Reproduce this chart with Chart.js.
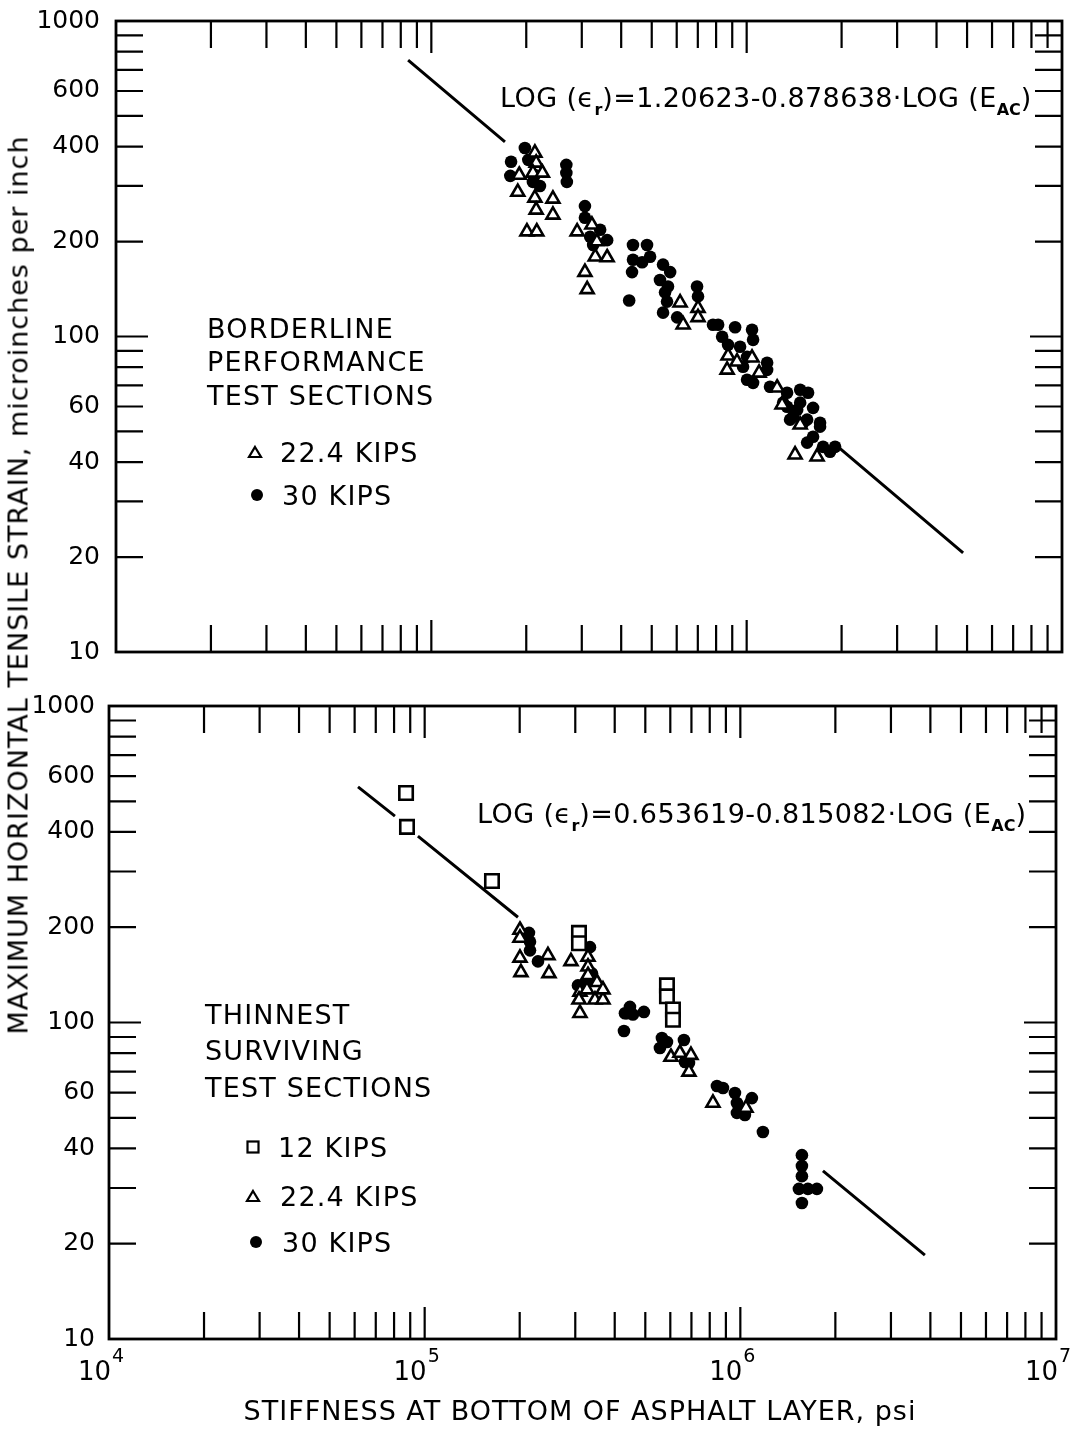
<!DOCTYPE html>
<html>
<head>
<meta charset="utf-8">
<script src="https://cdn.jsdelivr.net/npm/chart.js@4.4.1/dist/chart.umd.min.js"></script>
<style>
  body { margin: 0; background: #fff; }
  #page { position: relative; width: 1080px; height: 1429px; overflow: hidden; font-family: 'DejaVu Sans', sans-serif; color: #000; }
  canvas { position: absolute; left: 0; }
  .note { position: absolute; font-size: 27px; line-height: 27px; letter-spacing: 1.2px; white-space: nowrap; }
  .eq { position: absolute; font-size: 27px; line-height: 27px; letter-spacing: 0.4px; white-space: nowrap; }
  .eq sub { font-size: 16px; vertical-align: -8px; line-height: 0; font-weight: bold; letter-spacing: 0; }
  .mark { position: absolute; }
  #ytitle { position: absolute; left: 18px; top: 585px; transform: translate(-50%, -50%) rotate(-90deg); font-size: 27px; letter-spacing: 1px; white-space: nowrap; }
  #xtitle { position: absolute; left: 580px; top: 1410px; transform: translate(-50%, -50%); font-size: 27px; letter-spacing: 1px; white-space: nowrap; }
</style>
</head>
<body>
<div id="page">
  <canvas id="topChart" style="top:0" width="1080" height="680"></canvas>
  <canvas id="bottomChart" style="top:680px" width="1080" height="749"></canvas>

  <div id="ytitle">MAXIMUM HORIZONTAL TENSILE STRAIN, microinches per inch</div>
  <div id="xtitle">STIFFNESS AT BOTTOM OF ASPHALT LAYER, psi</div>

  <div class="eq" style="left:500px;top:84px">LOG (ϵ<sub>r</sub>)=1.20623-0.878638·LOG (E<sub>AC</sub>)</div>
  <div class="eq" style="left:477px;top:800px">LOG (ϵ<sub>r</sub>)=0.653619-0.815082·LOG (E<sub>AC</sub>)</div>

  <div class="note" style="left:207px;top:315px">BORDERLINE</div>
  <div class="note" style="left:207px;top:348px">PERFORMANCE</div>
  <div class="note" style="left:207px;top:382px">TEST SECTIONS</div>
  <svg class="mark" style="left:247px;top:444px" width="16" height="16"><polygon points="8,3 14,13 2,13" fill="#fff" stroke="#000" stroke-width="2.2"/></svg>
  <div class="note" style="left:280px;top:439px">22.4 KIPS</div>
  <svg class="mark" style="left:249px;top:487px" width="16" height="16"><circle cx="8" cy="8" r="6" fill="#000"/></svg>
  <div class="note" style="left:282px;top:482px">30 KIPS</div>

  <div class="note" style="left:205px;top:1001px">THINNEST</div>
  <div class="note" style="left:205px;top:1037px">SURVIVING</div>
  <div class="note" style="left:205px;top:1074px">TEST SECTIONS</div>
  <svg class="mark" style="left:245px;top:1139px" width="16" height="16"><rect x="2.5" y="2.5" width="11" height="11" fill="#fff" stroke="#000" stroke-width="2.2"/></svg>
  <div class="note" style="left:278px;top:1134px">12 KIPS</div>
  <svg class="mark" style="left:245px;top:1188px" width="16" height="16"><polygon points="8,3 14,13 2,13" fill="#fff" stroke="#000" stroke-width="2.2"/></svg>
  <div class="note" style="left:280px;top:1183px">22.4 KIPS</div>
  <svg class="mark" style="left:248px;top:1234px" width="16" height="16"><circle cx="8" cy="8" r="6" fill="#000"/></svg>
  <div class="note" style="left:282px;top:1229px">30 KIPS</div>
</div>

<script>
// axis ticks
const xTickValues = [10000, 20000, 30000, 40000, 50000, 60000, 70000, 80000, 90000,
  100000, 200000, 300000, 400000, 500000, 600000, 700000, 800000, 900000,
  1000000, 2000000, 3000000, 4000000, 5000000, 6000000, 7000000, 8000000, 9000000, 10000000];
const xTickExponents = { 10000: "4", 100000: "5", 1000000: "6", 10000000: "7" };
const yTickValues = [10, 20, 30, 40, 50, 60, 70, 80, 90, 100, 200, 300, 400, 500, 600, 700, 800, 900, 1000];
const yTickLabels = [10, 20, 40, 60, 100, 200, 400, 600, 1000];

// top panel: borderline performance test sections
const topTriStiff = [190000, 188000, 213000, 215000, 210000, 225000, 213000, 243000, 215000, 243000,
  201000, 216000, 290000, 323000, 335000, 331000, 361000, 307000, 312000, 615000,
  629000, 701000, 701000, 873000, 867000, 932000, 1040000, 1095000, 1249000, 1295000,
  1478000, 1424000, 1672000];
const topTriStrain = [325, 287, 382, 355, 330, 330, 275, 273, 252, 243,
  215, 215, 215, 226, 200, 179, 178, 160, 141, 128,
  109, 123, 115, 86.9, 78.4, 83.2, 85.6, 76.7, 68.8, 60.8,
  52.5, 42.2, 41.6];
const topDotStiff = [179000, 178000, 198000, 203000, 213000, 221000, 210000, 268000, 268000, 269000,
  307000, 307000, 319000, 326000, 343000, 361000, 424000, 436000, 483000, 494000,
  436000, 466000, 433000, 543000, 572000, 531000, 563000, 551000, 559000, 543000,
  602000, 696000, 701000, 782000, 812000, 836000, 919000, 1040000, 873000, 953000,
  1048000, 1003000, 974000, 1161000, 1161000, 1003000, 1048000, 1186000, 1343000, 1478000,
  1566000, 1343000, 1478000, 1624000, 1404000, 1555000, 1709000, 1305000, 1446000, 1373000,
  1511000, 1624000, 1555000, 1747000, 1838000, 1709000, 1907000];
const topDotStrain = [358, 323, 396, 363, 325, 300, 309, 350, 330, 309,
  259, 238, 207, 195, 218, 202, 130, 195, 195, 179,
  175, 172, 160, 169, 160, 151, 144, 138, 129, 119,
  115, 144, 134, 109, 109, 99.8, 107, 105, 94.1, 92.8,
  97.6, 86.2, 80.2, 82.6, 78.4, 72.9, 71.3, 69.3, 66.3, 67.8,
  66.3, 59.9, 61.7, 59.4, 55.7, 54.5, 53.3, 61.7, 58.6, 54.5,
  53.3, 48.1, 46.1, 44.7, 43.1, 51.8, 44.7];
// regression line, broken where the points sit (null = gap)
const topLineStiff = [84400, 171200, 600000, 1949000, 4857000];
const topLineStrain = [752, 414, null, 44.7, 20.6];

// bottom panel: thinnest surviving test sections
const botSqStiff = [87300, 87900, 163400, 308200, 308200, 585500, 585500, 611700, 611700];
const botSqStrain = [531, 415, 280, 192, 178, 131, 121, 110, 102];
const botTriStiff = [200400, 200400, 200400, 201800, 245800, 247600, 290700, 329100, 329100, 329100,
  351400, 310400, 326700, 308200, 310400, 346300, 367100, 367100, 602800, 643600,
  697500, 687400, 818900, 1042000];
const botTriStrain = [196, 185, 160, 144, 163, 143, 156, 161, 150, 141,
  134, 125, 127, 118, 107, 118, 118, 127, 77.8, 80.1,
  78.9, 69.8, 55.7, 53.7];
const botDotStiff = [214000, 215600, 215600, 228500, 333900, 338800, 305900, 326700, 437300, 447000,
  431000, 456800, 494900, 427900, 564400, 556300, 585500, 662700, 667600, 687400,
  843200, 881000, 961400, 975500, 1088000, 975500, 1034000, 1179000, 1567000, 1567000,
  1567000, 1533000, 1637000, 1748000, 1567000];
const botDotStrain = [192, 180, 169, 156, 173, 143, 131, 134, 107, 112,
  107, 106, 108, 94.0, 89.3, 83.1, 86.8, 88.0, 75.0, 74.5,
  63.0, 62.1, 59.9, 55.7, 57.7, 51.8, 51.0, 45.1, 38.1, 35.2,
  32.7, 29.8, 29.8, 29.8, 26.9];
const botLineStiff = [61500, 80500, 87000, 95200, 197500, 600000, 1827000, 3843000];
const botLineStrain = [555, 449, null, 388, 215, null, 34.0, 18.4];

Chart.defaults.font.family = "'DejaVu Sans', sans-serif";
Chart.defaults.color = "#000";

const pts = (xs, ys) => xs.map((x, i) => ({ x: x, y: ys[i] }));
const isDecade = v => Math.abs(Math.log10(v) - Math.round(Math.log10(v))) < 1e-9;

// frame + inward tick marks on all four sides, plus 10^n labels under the bottom axis
const frameTicks = {
  id: "frameTicks",
  afterDraw(chart, args, opts) {
    const { ctx, chartArea: a } = chart;
    const xs = chart.scales.x, ys = chart.scales.y;
    ctx.save();
    ctx.strokeStyle = "#000";
    ctx.lineWidth = 2.2;
    ctx.beginPath();
    xs.ticks.forEach(t => {
      if (t.value <= xs.min || t.value >= xs.max) return;
      const px = xs.getPixelForValue(t.value);
      const len = isDecade(t.value) ? 32 : 27;
      ctx.moveTo(px, a.bottom); ctx.lineTo(px, a.bottom - len);
      ctx.moveTo(px, a.top); ctx.lineTo(px, a.top + len);
    });
    ys.ticks.forEach(t => {
      if (t.value <= ys.min || t.value >= ys.max) return;
      const py = ys.getPixelForValue(t.value);
      const len = isDecade(t.value) ? 32 : 27;
      ctx.moveTo(a.left, py); ctx.lineTo(a.left + len, py);
      ctx.moveTo(a.right, py); ctx.lineTo(a.right - len, py);
    });
    ctx.stroke();
    ctx.lineWidth = 2.8;
    ctx.strokeRect(a.left, a.top, a.right - a.left, a.bottom - a.top);

    if (opts.powers) {
      ctx.fillStyle = "#000";
      ctx.textBaseline = "alphabetic";
      xs.ticks.forEach(t => {
        const e = xTickExponents[t.value];
        if (!e) return;
        const px = xs.getPixelForValue(t.value);
        ctx.font = "26px 'DejaVu Sans'";
        ctx.textAlign = "right";
        ctx.fillText("10", px + 2, a.bottom + 41);
        ctx.font = "19px 'DejaVu Sans'";
        ctx.textAlign = "left";
        ctx.fillText(e, px + 3, a.bottom + 23);
      });
    }
    ctx.restore();
  }
};

function xAxis() {
  return {
    type: "logarithmic", min: 10000, max: 10000000,
    afterBuildTicks: s => { s.ticks = xTickValues.map(v => ({ value: v })); },
    grid: { display: false, drawTicks: false },
    border: { display: false },
    ticks: { display: false, autoSkip: false },
    afterFit: s => { s.paddingLeft = 0; s.paddingRight = 0; }
  };
}

function yAxis(width, pad) {
  return {
    type: "logarithmic", min: 10, max: 1000,
    afterBuildTicks: s => { s.ticks = yTickValues.map(v => ({ value: v })); },
    grid: { display: false, drawTicks: false },
    border: { display: false },
    ticks: {
      autoSkip: false, padding: pad, font: { size: 25 }, color: "#000",
      callback: v => yTickLabels.includes(v) ? String(v) : ""
    },
    afterFit: s => { s.width = width; s.paddingTop = 0; s.paddingBottom = 0; }
  };
}

const triStyle = { pointStyle: "triangle", pointRadius: 7.5, backgroundColor: "#fff", borderColor: "#000", borderWidth: 2.6 };
const dotStyle = { pointStyle: "circle", pointRadius: 6.3, backgroundColor: "#000", borderColor: "#000", borderWidth: 0 };
const sqStyle = { pointStyle: "rect", pointRadius: 9.5, backgroundColor: "#fff", borderColor: "#000", borderWidth: 2.6 };
const lineStyle = { showLine: true, pointRadius: 0, borderColor: "#000", borderWidth: 3, spanGaps: false, fill: false };

function baseOptions(pad, yWidth, yPad, powers) {
  return {
    responsive: false,
    animation: false,
    layout: { padding: pad },
    plugins: { legend: { display: false }, tooltip: { enabled: false }, frameTicks: { powers: powers } },
    scales: { x: xAxis(), y: yAxis(yWidth, yPad) }
  };
}

new Chart(document.getElementById("topChart"), {
  type: "scatter",
  data: {
    datasets: [
      Object.assign({ label: "22.4 KIPS", data: pts(topTriStiff, topTriStrain) }, triStyle),
      Object.assign({ label: "30 KIPS", data: pts(topDotStiff, topDotStrain) }, dotStyle),
      Object.assign({ label: "fit", data: pts(topLineStiff, topLineStrain) }, lineStyle)
    ]
  },
  options: baseOptions({ top: 21, right: 18, left: 0, bottom: 28 }, 116, 16, false),
  plugins: [frameTicks]
});

new Chart(document.getElementById("bottomChart"), {
  type: "scatter",
  data: {
    datasets: [
      Object.assign({ label: "12 KIPS", data: pts(botSqStiff, botSqStrain) }, sqStyle),
      Object.assign({ label: "22.4 KIPS", data: pts(botTriStiff, botTriStrain) }, triStyle),
      Object.assign({ label: "30 KIPS", data: pts(botDotStiff, botDotStrain) }, dotStyle),
      Object.assign({ label: "fit", data: pts(botLineStiff, botLineStrain) }, lineStyle)
    ]
  },
  options: baseOptions({ top: 26, right: 24, left: 0, bottom: 90 }, 109, 14, true),
  plugins: [frameTicks]
});
</script>
</body>
</html>
